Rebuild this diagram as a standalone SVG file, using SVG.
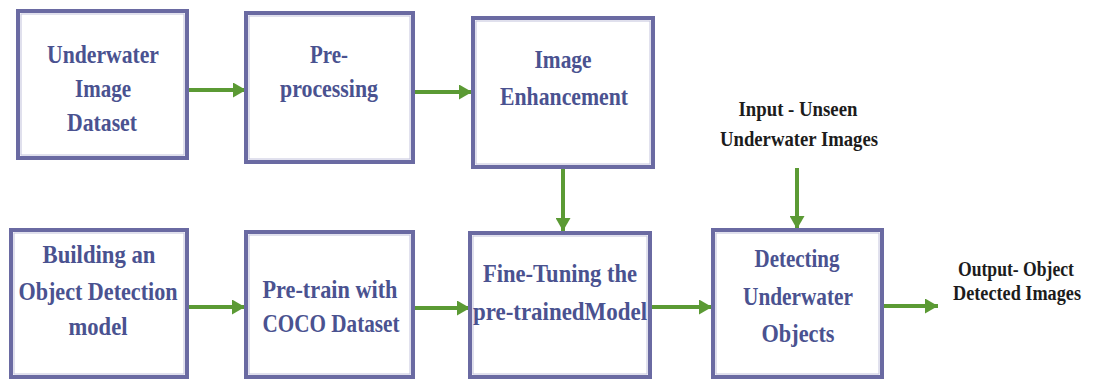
<svg xmlns="http://www.w3.org/2000/svg" width="1093" height="379" viewBox="0 0 1093 379">
<style>
.box{fill:#ffffff;stroke:#6a6aa2;stroke-width:4}
.inner{fill:none;stroke:#c2c2dc;stroke-width:1}
.t{font-size:26px;font-weight:bold;fill:#4a5290;text-anchor:middle}
.lbl{font-size:22px;font-weight:bold;fill:#1c1c1c;text-anchor:middle}
.conn{stroke:#5b9a34;stroke-width:4;fill:none;marker-end:url(#ah)}
</style>
<defs>
<marker id="ah" markerUnits="userSpaceOnUse" markerWidth="14" markerHeight="15" refX="13" refY="7.5" orient="auto">
<path d="M0,0 L13,7.5 L0,15 z" fill="#5b9a34"/>
</marker>
</defs>
<rect width="1093" height="379" fill="#ffffff"/>
<g id="connectors">
<line class="conn" x1="189" y1="90" x2="246" y2="90"/>
<line class="conn" x1="415" y1="92" x2="472" y2="92"/>
<line class="conn" x1="563" y1="169" x2="563" y2="231"/>
<line class="conn" x1="797" y1="168" x2="797" y2="229"/>
<line class="conn" x1="189" y1="307" x2="245" y2="307"/>
<line class="conn" x1="415" y1="308" x2="470" y2="308"/>
<line class="conn" x1="652" y1="307" x2="712" y2="307"/>
<line class="conn" x1="884" y1="306" x2="938" y2="306"/>
</g>
<g id="n1" font-family="Liberation Serif, Times New Roman, serif">
<rect class="box" x="18" y="11" width="169" height="147"/>
<rect class="inner" x="21" y="14" width="163" height="141"/>
<text class="t" x="103" y="63" textLength="112" lengthAdjust="spacingAndGlyphs">Underwater</text>
<text class="t" x="103" y="97" textLength="56" lengthAdjust="spacingAndGlyphs">Image</text>
<text class="t" x="102" y="131" textLength="70" lengthAdjust="spacingAndGlyphs">Dataset</text>
</g>
<g id="n2" font-family="Liberation Serif, Times New Roman, serif">
<rect class="box" x="246" y="13" width="167" height="149"/>
<rect class="inner" x="249" y="16" width="161" height="143"/>
<text class="t" x="329" y="63" textLength="38" lengthAdjust="spacingAndGlyphs">Pre-</text>
<text class="t" x="329" y="97" textLength="98" lengthAdjust="spacingAndGlyphs">processing</text>
</g>
<g id="n3" font-family="Liberation Serif, Times New Roman, serif">
<rect class="box" x="473" y="18" width="180" height="149"/>
<rect class="inner" x="476" y="21" width="174" height="143"/>
<text class="t" x="563" y="68" textLength="57" lengthAdjust="spacingAndGlyphs">Image</text>
<text class="t" x="564" y="105" textLength="128" lengthAdjust="spacingAndGlyphs">Enhancement</text>
</g>
<g id="input" font-family="Liberation Serif, Times New Roman, serif">
<text class="lbl" x="798" y="116" textLength="119" lengthAdjust="spacingAndGlyphs">Input - Unseen</text>
<text class="lbl" x="799" y="146" textLength="158" lengthAdjust="spacingAndGlyphs">Underwater Images</text>
</g>
<g id="n4" font-family="Liberation Serif, Times New Roman, serif">
<rect class="box" x="11" y="230" width="176" height="147"/>
<rect class="inner" x="14" y="233" width="170" height="141"/>
<text class="t" x="99" y="263" textLength="113" lengthAdjust="spacingAndGlyphs">Building an</text>
<text class="t" x="98" y="300" textLength="159" lengthAdjust="spacingAndGlyphs">Object Detection</text>
<text class="t" x="98" y="335" textLength="59" lengthAdjust="spacingAndGlyphs">model</text>
</g>
<g id="n5" font-family="Liberation Serif, Times New Roman, serif">
<rect class="box" x="246" y="232" width="167" height="145"/>
<rect class="inner" x="249" y="235" width="161" height="139"/>
<text class="t" x="330" y="298" textLength="135" lengthAdjust="spacingAndGlyphs">Pre-train with</text>
<text class="t" x="331" y="332" textLength="137" lengthAdjust="spacingAndGlyphs">COCO Dataset</text>
</g>
<g id="n6" font-family="Liberation Serif, Times New Roman, serif">
<rect class="box" x="470" y="233" width="180" height="144"/>
<rect class="inner" x="473" y="236" width="174" height="138"/>
<text class="t" x="560" y="282" textLength="154" lengthAdjust="spacingAndGlyphs">Fine-Tuning the</text>
<text class="t" x="560" y="320" textLength="174" lengthAdjust="spacingAndGlyphs">pre-trainedModel</text>
</g>
<g id="n7" font-family="Liberation Serif, Times New Roman, serif">
<rect class="box" x="713" y="230" width="169" height="147"/>
<rect class="inner" x="716" y="233" width="163" height="141"/>
<text class="t" x="797" y="267" textLength="85" lengthAdjust="spacingAndGlyphs">Detecting</text>
<text class="t" x="798" y="305" textLength="110" lengthAdjust="spacingAndGlyphs">Underwater</text>
<text class="t" x="798" y="342" textLength="73" lengthAdjust="spacingAndGlyphs">Objects</text>
</g>
<g id="output" font-family="Liberation Serif, Times New Roman, serif">
<text class="lbl" style="font-size:20px" x="1016" y="276" textLength="116" lengthAdjust="spacingAndGlyphs">Output- Object</text>
<text class="lbl" style="font-size:20px" x="1017" y="300" textLength="128" lengthAdjust="spacingAndGlyphs">Detected Images</text>
</g>
</svg>
